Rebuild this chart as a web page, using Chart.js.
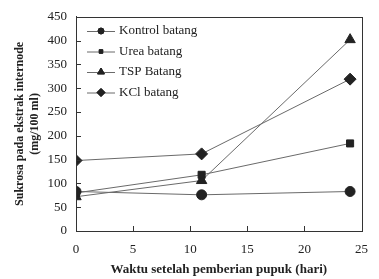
<!DOCTYPE html>
<html><head><meta charset="utf-8">
<script src="https://cdn.jsdelivr.net/npm/chart.js@4/dist/chart.umd.min.js"></script>
<style>html,body{margin:0;padding:0;background:#fff}#wrap{width:379px;height:279px}</style>
</head><body><div id="wrap"><canvas id="c"></canvas></div>
<script>
const days = [0, 11, 24];
const kontrol = [83, 76, 83];
const urea = [80, 118, 184];
const tsp = [72, 106, 402];
const kcl = [148, 162, 319];
const seriesNames = ['Kontrol batang', 'Urea batang', 'TSP Batang', 'KCl batang'];
const xTicks = [0, 5, 10, 15, 20, 25];
const yTicks = [0, 50, 100, 150, 200, 250, 300, 350, 400, 450];

const ink = '#222';
const lineCol = '#6a6a6a';
const styles = [
  {pointStyle: 'circle', r: 5, lr: 3},
  {pointStyle: 'rect', r: 5, lr: 2.5},
  {pointStyle: 'triangle', r: 6, lr: 4},
  {pointStyle: 'rectRot', r: 6, lr: 4}
];
const seriesVals = [kontrol, urea, tsp, kcl];
const datasets = seriesVals.map((vals, i) => ({
  label: seriesNames[i],
  data: days.map((d, j) => ({x: d, y: vals[j]})),
  borderColor: lineCol,
  borderWidth: 1,
  backgroundColor: ink,
  pointBackgroundColor: ink,
  pointBorderColor: ink,
  pointBorderWidth: 1,
  pointStyle: styles[i].pointStyle,
  pointRadius: styles[i].r,
  tension: 0,
  fill: false
}));

const frame = {
  id: 'frame',
  afterDraw(chart) {
    const {ctx, chartArea: a, scales} = chart;
    ctx.save();
    ctx.strokeStyle = '#333';
    ctx.lineWidth = 1;
    ctx.strokeRect(Math.round(a.left) + 0.5, Math.round(a.top) + 0.5, Math.round(a.right - a.left), Math.round(a.bottom - a.top));
    ctx.beginPath();
    scales.y.ticks.forEach(t => {
      const y = Math.round(scales.y.getPixelForValue(t.value)) + 0.5;
      ctx.moveTo(a.left, y); ctx.lineTo(a.left + 5, y);
    });
    scales.x.ticks.forEach(t => {
      const x = Math.round(scales.x.getPixelForValue(t.value)) + 0.5;
      ctx.moveTo(x, a.bottom); ctx.lineTo(x, a.bottom - 5);
    });
    ctx.stroke();
    // legend
    const lx0 = 87, lx1 = 115, tx = 119;
    const ys = [31, 51.5, 72, 92.5];
    ctx.font = '13px "Liberation Serif", serif';
    ctx.textBaseline = 'middle';
    ctx.textAlign = 'left';
    chart.data.datasets.forEach((ds, i) => {
      const y = ys[i];
      ctx.strokeStyle = lineCol;
      ctx.beginPath(); ctx.moveTo(lx0, y + 0.5); ctx.lineTo(lx1, y + 0.5); ctx.stroke();
      Chart.helpers.drawPoint(ctx, {pointStyle: styles[i].pointStyle, radius: styles[i].lr, borderWidth: 1}, (lx0 + lx1) / 2, y);
      ctx.fillStyle = ink;
      ctx.strokeStyle = ink;
      Chart.helpers.drawPoint(ctx, {pointStyle: styles[i].pointStyle, radius: styles[i].lr, borderWidth: 1}, (lx0 + lx1) / 2, y);
      ctx.fill();
      ctx.fillText(ds.label, tx, y);
    });
    ctx.restore();
  }
};

new Chart(document.getElementById('c'), {
  type: 'line',
  data: {datasets},
  options: {
    responsive: true,
    maintainAspectRatio: false,
    animation: false,
    layout: {padding: {top: 15, right: 7, left: 0, bottom: 0}},
    plugins: {legend: {display: false}, tooltip: {enabled: false}},
    scales: {
      x: {
        type: 'linear', min: 0, max: 25,
        afterBuildTicks: s => { s.ticks = xTicks.map(v => ({value: v})); },
        afterFit: s => { s.height = 48; },
        grid: {display: false, drawTicks: false},
        border: {display: true, color: '#333'},
        ticks: {color: ink, padding: 11, font: {family: '"Liberation Serif", serif', size: 13}, maxRotation: 0},
        title: {display: true, text: 'Waktu setelah pemberian pupuk (hari)', color: ink,
          font: {family: '"Liberation Serif", serif', size: 13, weight: 'bold'}, padding: {top: 0, bottom: 2}}
      },
      y: {
        min: 0, max: 450,
        afterBuildTicks: s => { s.ticks = yTicks.map(v => ({value: v})); },
        afterFit: s => { s.width = 76; },
        grid: {display: false, drawTicks: false},
        border: {display: true, color: '#333'},
        ticks: {color: ink, padding: 9, font: {family: '"Liberation Serif", serif', size: 13}},
        title: {display: true, text: ['Sukrosa pada ekstrak internode', '(mg/100 ml)'], color: ink,
          font: {family: '"Liberation Serif", serif', size: 12, weight: 'bold', lineHeight: 1.3}, padding: {top: 12, bottom: 0}}
      }
    }
  },
  plugins: [frame]
});
</script></body></html>
